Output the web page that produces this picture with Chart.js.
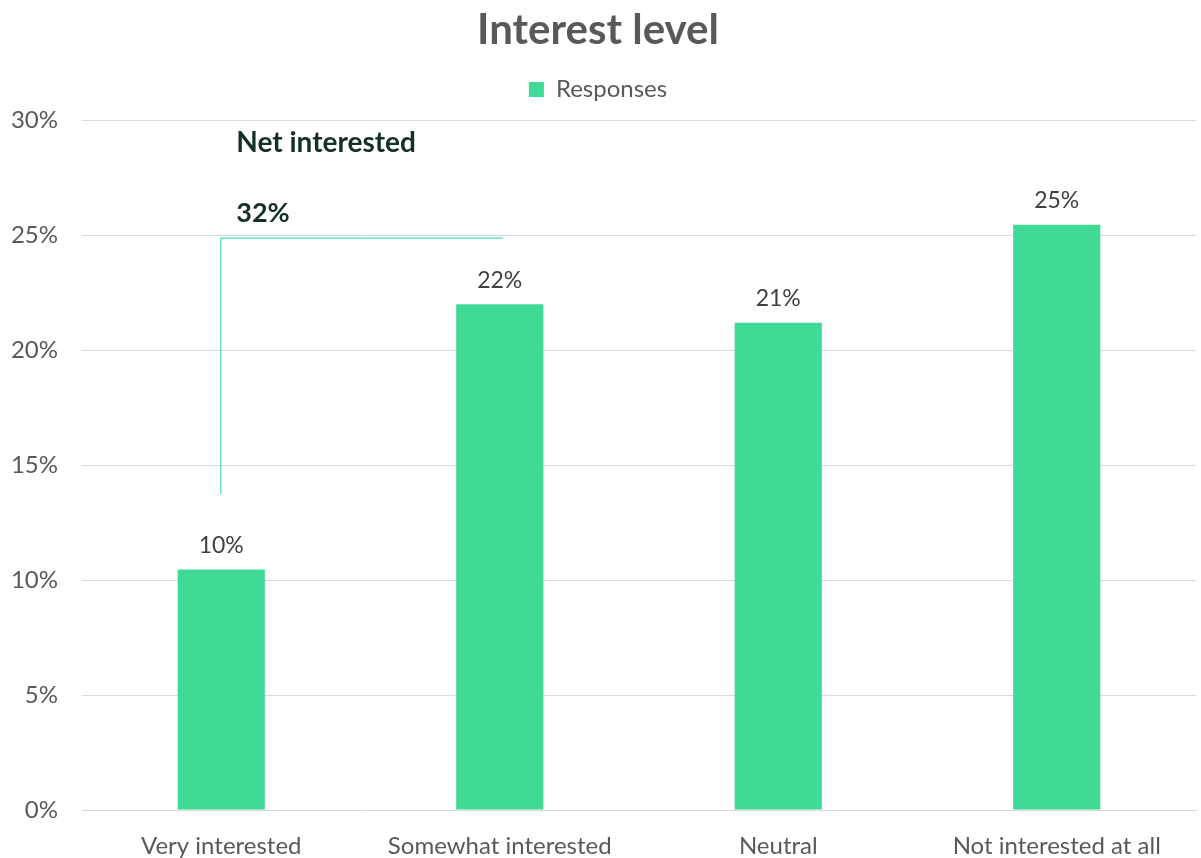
<!DOCTYPE html>
<html>
<head>
<meta charset="utf-8">
<title>Interest level</title>
<script src="https://cdn.jsdelivr.net/npm/chart.js@4.4.1/dist/chart.umd.min.js"></script>
<style>
    html, body { margin: 0; padding: 0; background: #ffffff; }
    #wrap { width: 1201px; height: 858px; }
</style>
</head>
<body>
<div id="wrap"><canvas id="interestChart" width="1201" height="858"></canvas></div>
<script>
const categories = ["Very interested", "Somewhat interested", "Neutral", "Not interested at all"];
const responses = [10.46, 22.0, 21.2, 25.46];
const yTicks = [0, 5, 10, 15, 20, 25, 30];

// bracket grouping the first two answers
const netGroup = [0, 1];
const netLabel = "Net interested";
const bracketLow = 13.75;
const bracketHigh = 24.9;

const GREEN = "#40d996";
const GREY = "#595959";
const FONT = "Lato, 'Open Sans', sans-serif";

function pct(v) {
    return Math.round(v) + "%";
}

// extra room under the legend
const legendGap = {
    id: "legendGap",
    beforeInit(chart) {
        const legend = chart.legend;
        const fit = legend.fit;
        legend.fit = function () {
            fit.call(this);
            this.height += 9;
        };
    }
};

// value labels above each bar
const barLabels = {
    id: "barLabels",
    afterDatasetsDraw(chart) {
        const ctx = chart.ctx;
        const meta = chart.getDatasetMeta(0);
        ctx.save();
        ctx.font = "23px " + FONT;
        ctx.fillStyle = "#404040";
        ctx.textAlign = "center";
        ctx.textBaseline = "middle";
        meta.data.forEach((bar, i) => {
            ctx.fillText(pct(responses[i]), bar.x, bar.y - 24);
        });
        ctx.restore();
    }
};

// "Net interested" bracket and total
const netBracket = {
    id: "netBracket",
    afterDatasetsDraw(chart) {
        const ctx = chart.ctx;
        const x = chart.scales.x;
        const y = chart.scales.y;
        const x0 = x.getPixelForValue(netGroup[0]) - 1;
        const x1 = x.getPixelForValue(netGroup[1]) + 3;
        const yLow = y.getPixelForValue(bracketLow);
        const yHigh = y.getPixelForValue(bracketHigh);
        const total = netGroup.reduce((s, i) => s + responses[i], 0);

        ctx.save();
        ctx.strokeStyle = "#52dea3";
        ctx.lineWidth = 1.2;
        ctx.beginPath();
        ctx.moveTo(x0 + 0.5, yLow);
        ctx.lineTo(x0 + 0.5, yHigh + 0.5);
        ctx.lineTo(x1, yHigh + 0.5);
        ctx.stroke();

        ctx.fillStyle = "#15302a";
        ctx.textAlign = "left";
        ctx.textBaseline = "middle";
        ctx.font = "bold 28px " + FONT;
        ctx.fillText(netLabel, x0 + 16, y.getPixelForValue(29.0));
        ctx.font = "bold 27px " + FONT;
        ctx.fillText(pct(total), x0 + 16, y.getPixelForValue(25.95));
        ctx.restore();
    }
};

new Chart(document.getElementById("interestChart"), {
    type: "bar",
    data: {
        labels: categories,
        datasets: [{
            label: "Responses",
            data: responses,
            backgroundColor: GREEN,
            borderWidth: 0,
            categoryPercentage: 1,
            barPercentage: 0.313
        }]
    },
    options: {
        responsive: false,
        animation: false,
        layout: { padding: { left: 0, right: 5, top: 3, bottom: 0 } },
        plugins: {
            title: {
                display: true,
                text: "Interest level",
                color: GREY,
                font: { family: FONT, size: 42, weight: "bold" },
                padding: { top: 2, bottom: 12 }
            },
            legend: {
                display: true,
                labels: {
                    color: GREY,
                    font: { family: FONT, size: 24 },
                    boxWidth: 15,
                    boxHeight: 15,
                    padding: 10
                }
            },
            tooltip: { enabled: false }
        },
        scales: {
            x: {
                afterFit(scale) { scale.height = 48; },
                grid: { display: false },
                border: { color: "#d9d9d9" },
                ticks: {
                    color: GREY,
                    font: { family: FONT, size: 24 },
                    padding: 14,
                    maxRotation: 0
                }
            },
            y: {
                min: 0,
                max: 30,
                afterFit(scale) { scale.width = 82; },
                afterBuildTicks(scale) { scale.ticks = yTicks.map(v => ({ value: v })); },
                grid: { color: "#d9d9d9", drawTicks: false },
                border: { display: false },
                ticks: {
                    color: GREY,
                    font: { family: FONT, size: 24 },
                    padding: 24,
                    callback: v => v + "%"
                }
            }
        }
    },
    plugins: [legendGap, barLabels, netBracket]
});
</script>
</body>
</html>
